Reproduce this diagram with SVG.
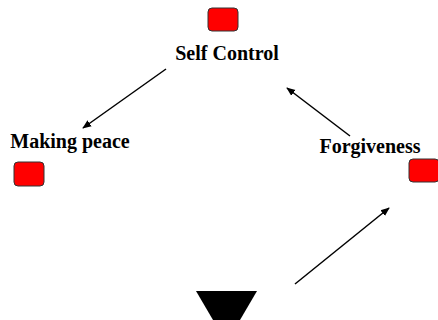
<svg xmlns="http://www.w3.org/2000/svg" width="438" height="320" viewBox="0 0 438 320">
<defs>
<style>
.lbl{font-family:"Liberation Serif","Times New Roman",serif;font-weight:bold;font-size:20px;fill:#000;text-anchor:middle}
.box{fill:#ff0000;stroke:#333;stroke-width:1}
.edge{stroke:#000;stroke-width:1.5;fill:none;marker-end:url(#ah)}
</style>
<marker id="ah" viewBox="0 0 10 10" refX="9" refY="5" markerWidth="9" markerHeight="9" orient="auto" markerUnits="userSpaceOnUse">
<path d="M0,1 L10,5 L0,9 z" fill="#000"/>
</marker>
</defs>
<rect width="438" height="320" fill="#fff"/>
<g id="connectors">
<line class="edge" x1="166" y1="69" x2="83" y2="128"/>
<line class="edge" x1="350" y1="136" x2="287" y2="88"/>
<line class="edge" x1="295" y1="284" x2="389" y2="208"/>
</g>
<g id="self-control">
<rect class="box" x="208" y="8" width="30" height="23" rx="4"/>
<text class="lbl" x="227" y="60">Self Control</text>
</g>
<g id="making-peace">
<rect class="box" x="14" y="162" width="30" height="24" rx="4"/>
<text class="lbl" x="70" y="148">Making peace</text>
</g>
<g id="forgiveness">
<rect class="box" x="409" y="159" width="30" height="23" rx="4"/>
<text class="lbl" x="370" y="153">Forgiveness</text>
</g>
<g id="bottom-node">
<polygon points="196,291 257,291 240,320 213,320" fill="#000"/>
</g>
</svg>
